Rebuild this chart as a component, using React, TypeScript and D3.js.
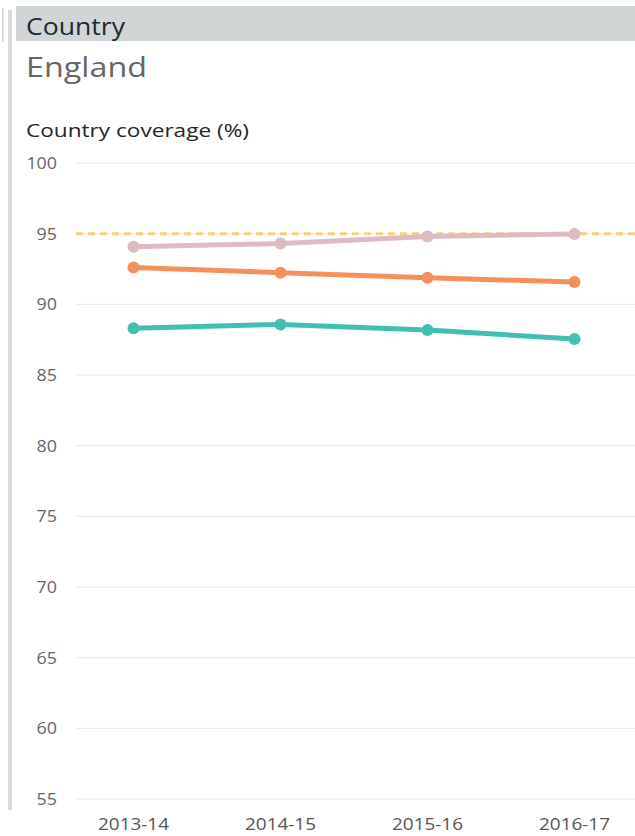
import { useRef, useEffect } from "react";
import * as d3 from "d3";

const years = ["2013-14", "2014-15", "2015-16", "2016-17"];
const pinkSeries = [94.07, 94.3, 94.8, 94.98];
const orangeSeries = [92.6, 92.24, 91.88, 91.58];
const tealSeries = [88.3, 88.58, 88.18, 87.55];
const yTicks = [100, 95, 90, 85, 80, 75, 70, 65, 60, 55];
const targetValue = 95;

const seriesList = [
  { values: pinkSeries, color: "#dcbcc0" },
  { values: orangeSeries, color: "#f5905c" },
  { values: tealSeries, color: "#41c0b1" },
];

const W = 635;
const H = 836;

export default function App() {
  const svgRef = useRef<SVGSVGElement>(null);

  useEffect(() => {
    drawChart();
  }, []);

  function drawChart() {
    if (!svgRef.current) return;
    const svg = d3.select(svgRef.current);
    svg.selectAll("*").remove();

    const font = "'Open Sans', 'Noto Sans', sans-serif";

    // left frame bars
    svg.append("rect").attr("x", 2).attr("y", 8).attr("width", 1.5).attr("height", 34).attr("fill", "#d6d6d6");
    svg.append("rect").attr("x", 8).attr("y", 10).attr("width", 4).attr("height", 800).attr("fill", "#d9d9d9");

    // header band + titles (text stretched to match the wide reference font)
    svg.append("rect").attr("x", 16).attr("y", 6).attr("width", W - 16).attr("height", 35).attr("fill", "#d1d5d5");
    svg.append("text").attr("x", 26).attr("y", 35).attr("font-family", font)
      .attr("font-size", 24).attr("fill", "#1e2a33")
      .attr("textLength", 99).attr("lengthAdjust", "spacingAndGlyphs").text("Country");
    svg.append("text").attr("x", 26).attr("y", 77).attr("font-family", font)
      .attr("font-size", 28).attr("fill", "#666")
      .attr("textLength", 121).attr("lengthAdjust", "spacingAndGlyphs").text("England");
    svg.append("text").attr("x", 26).attr("y", 137).attr("font-family", font)
      .attr("font-size", 18).attr("fill", "#252525")
      .attr("textLength", 223).attr("lengthAdjust", "spacingAndGlyphs").text("Country coverage (%)");

    const y = d3.scaleLinear().domain([55, 100]).range([799, 163]);
    const x = d3.scalePoint<string>().domain(years).range([60, 648]).padding(0.5);

    // gridlines + y labels
    const grid = svg.append("g");
    grid.selectAll("line").data(yTicks).enter().append("line")
      .attr("x1", 76).attr("x2", W)
      .attr("y1", (d) => y(d)).attr("y2", (d) => y(d))
      .attr("stroke", "#e9e9e9").attr("stroke-width", 1);
    grid.selectAll("text").data(yTicks).enter().append("text")
      .attr("x", 57).attr("y", (d) => y(d) + 6)
      .attr("text-anchor", "end").attr("font-family", font)
      .attr("font-size", 16).attr("fill", "#666")
      .attr("textLength", (d) => String(d).length * 10.2)
      .attr("lengthAdjust", "spacingAndGlyphs")
      .text((d) => d);

    // x labels
    svg.append("g").selectAll("text").data(years).enter().append("text")
      .attr("x", (d) => x(d)!).attr("y", 830)
      .attr("text-anchor", "middle").attr("font-family", font)
      .attr("font-size", 16).attr("fill", "#555")
      .attr("textLength", 71).attr("lengthAdjust", "spacingAndGlyphs")
      .text((d) => d);

    // target line
    svg.append("line")
      .attr("x1", 76).attr("x2", W)
      .attr("y1", y(targetValue)).attr("y2", y(targetValue))
      .attr("stroke", "#f6d27e").attr("stroke-width", 3)
      .attr("stroke-dasharray", "7,5");

    const line = d3.line<number>()
      .x((_, i) => x(years[i])!)
      .y((d) => y(d));

    seriesList.forEach((s) => {
      const g = svg.append("g");
      g.append("path").attr("d", line(s.values)).attr("fill", "none")
        .attr("stroke", s.color).attr("stroke-width", 5);
      g.selectAll("circle").data(s.values).enter().append("circle")
        .attr("cx", (_, i) => x(years[i])!).attr("cy", (d) => y(d))
        .attr("r", 6).attr("fill", s.color);
    });
  }

  return (
    <svg
      ref={svgRef}
      width={W}
      height={H}
      style={{ position: "absolute", left: 0, top: 0, background: "#fff" }}
    />
  );
}
